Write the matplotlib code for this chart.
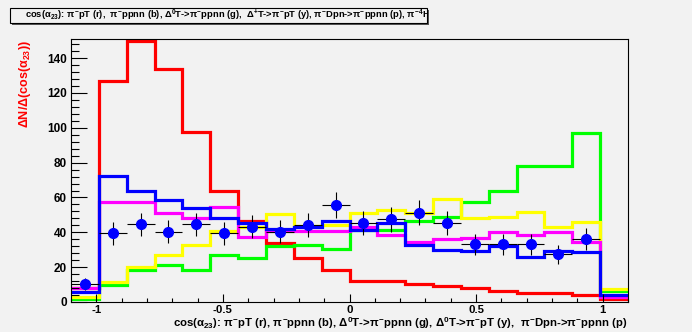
import numpy as np
import matplotlib
matplotlib.use("Agg")
import matplotlib.pyplot as plt
from matplotlib.patches import Rectangle
from matplotlib.ticker import MultipleLocator

plt.rcParams['font.family'] = ['Liberation Sans', 'DejaVu Sans']
plt.rcParams['font.weight'] = 'bold'
plt.rcParams['mathtext.fontset'] = 'custom'
plt.rcParams['mathtext.rm'] = 'Liberation Sans:bold'
plt.rcParams['mathtext.it'] = 'Liberation Sans:bold'
plt.rcParams['mathtext.bf'] = 'Liberation Sans:bold'

# histogram: 20 bins on [-1.1, 1.1]
x_lo, x_hi, n_bins = -1.1, 1.1, 20
edges = np.linspace(x_lo, x_hi, n_bins + 1)
centers = 0.5 * (edges[:-1] + edges[1:])

# pi- pT (r)
red = [8, 127, 150, 133.5, 97.7, 63.9, 46.7, 33.7, 25.4, 18.4,
       12.2, 12, 10.3, 9.2, 7.8, 6.5, 5.4, 5.4, 4, 2]
# Delta0 T -> pi- ppnn (g)
green = [2, 10, 18.5, 21.2, 18.4, 27, 25.4, 32.1, 32.7, 30.5,
         41.4, 41.4, 46.7, 48.6, 57.5, 63.7, 78, 78, 96.8, 6.5]
# Delta T -> pi- pT (y)
yellow = [3, 11.3, 19.9, 27, 32.7, 40.8, 43.2, 50.5, 43.8, 44.2,
          51.2, 52.7, 51.2, 59.1, 48, 48.6, 51.6, 43.2, 46.1, 7.5]
# pi- Dpn -> pi- ppnn (p)
magenta = [8, 57.2, 57.6, 51.2, 48, 54.7, 37.1, 41, 40.5, 40.8,
           43, 38.7, 34.5, 36, 36.5, 40, 38.4, 40, 34.6, 3]
# pi- ppnn (b)
blue = [5.6, 72.5, 63.7, 58.5, 54, 48, 45.5, 41.9, 43.2, 46.7,
        41.4, 45.5, 32.5, 29.7, 29.5, 32.3, 26, 29, 28.5, 4]
# pi- 4He -> 3 prongs data (first 19 bins)
data = [10.3, 39.4, 44.5, 40.3, 44.5, 39.4, 43.2, 40.3, 44.1, 55.6,
        45.5, 47.4, 51.2, 45.5, 33.1, 33.1, 33.1, 27.4, 36.1]
data_err = [3.5, 6.5, 6.8, 6.5, 6.8, 6.5, 6.7, 6.5, 6.8, 7.5,
            6.8, 7, 7.2, 6.8, 6, 6, 6, 5.5, 6.2]

bg = '#f2f2f2'
fig = plt.figure(figsize=(6.92, 3.32), dpi=100, facecolor=bg)
ax = fig.add_axes([71/692, 30/332, 557/692, 263/332], facecolor=bg)

lw = 2.3
ax.stairs(red, edges, color='#ff0000', lw=lw, baseline=None)
ax.stairs(green, edges, color='#00ff00', lw=lw, baseline=None)
ax.stairs(yellow, edges, color='#ffff00', lw=lw, baseline=None)
ax.stairs(magenta, edges, color='#ff00ff', lw=lw, baseline=None)
ax.stairs(blue, edges, color='#0000ff', lw=lw, baseline=None)

half_w = 0.5 * (edges[1] - edges[0])
ax.errorbar(centers[:len(data)], data, yerr=data_err, xerr=half_w,
            fmt='o', color='#0000ff', ms=7, ecolor='black', elinewidth=0.8,
            capsize=0, zorder=5)

ax.set_xlim(x_lo, x_hi)
ax.set_ylim(0, 151)
ax.xaxis.set_major_locator(MultipleLocator(0.5))
ax.xaxis.set_minor_locator(MultipleLocator(0.1))
ax.yaxis.set_major_locator(MultipleLocator(20))
ax.yaxis.set_minor_locator(MultipleLocator(4))
ax.tick_params(axis='x', which='major', direction='in', length=6, width=0.8,
               labelsize=8.2, pad=2)
ax.tick_params(axis='x', which='minor', direction='in', length=3, width=0.8)
ax.tick_params(axis='y', which='major', direction='in', length=11.5, width=0.8,
               labelsize=8.5, pad=3)
ax.tick_params(axis='y', which='minor', direction='in', length=5.8, width=0.8)
ax.set_xticks([-1, -0.5, 0, 0.5, 1])
ax.set_xticklabels(['-1', '-0.5', '0', '0.5', '1'])
for s in ax.spines.values():
    s.set_linewidth(0.8)

# x axis title, right aligned to the axis end
fig.text(628/692, 1 - 323.5/332,
         r'cos($\alpha_{23}$): $\pi^{-}$pT (r), $\pi^{-}$ppnn (b), '
         r'$\Delta^{0}$T->$\pi^{-}$ppnn (g), $\Delta^{0}$T->$\pi^{-}$pT (y),  '
         r'$\pi^{-}$Dpn->$\pi^{-}$ppnn (p)',
         ha='right', va='center', fontsize=8.2, fontweight='bold')

fig.text(25/692, 1 - 40/332, r'$\Delta$N/$\Delta$(cos($\alpha_{23}$))',
         rotation=90, ha='center', va='top', color='#ff0000',
         fontsize=9, fontweight='bold')

# title box with shadow
bx0, by0, bw, bh = 10/692, 1 - 23/332, 417/692, 15/332
fig.patches.append(Rectangle((bx0 + 2/692, by0 - 2/332), bw, bh,
                             transform=fig.transFigure, facecolor='#555555',
                             edgecolor='none'))
box = Rectangle((bx0, by0), bw, bh, transform=fig.transFigure,
                facecolor=bg, edgecolor='black', lw=0.8)
fig.patches.append(box)
t = fig.text(bx0 + 15/692, by0 + bh/2,
             r'cos($\alpha_{23}$): $\pi^{-}$pT (r),  $\pi^{-}$ppnn (b), '
             r'$\Delta^{0}$T->$\pi^{-}$ppnn (g),  $\Delta^{+}$T->$\pi^{-}$pT (y), '
             r'$\pi^{-}$Dpn->$\pi^{-}$ppnn (p), $\pi^{-}$$^{4}$He->3 prongs',
             ha='left', va='center', fontsize=6.75, fontweight='bold')
t.set_clip_path(box)

fig.savefig('out.png', dpi=100, facecolor=bg)
